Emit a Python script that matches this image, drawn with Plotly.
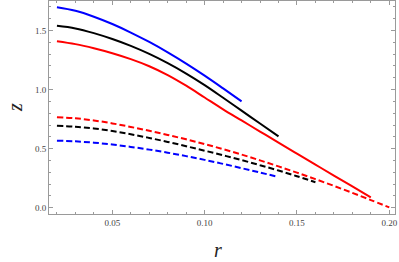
import plotly.graph_objects as go

r_blue_solid = [0.02, 0.03, 0.04, 0.05, 0.06, 0.07, 0.08, 0.09, 0.10, 0.11, 0.12]
z_blue_solid = [1.697, 1.667, 1.617, 1.555, 1.483, 1.403, 1.315, 1.22, 1.118, 1.01, 0.90]

r_black_solid = [0.02, 0.03, 0.04, 0.05, 0.06, 0.07, 0.08, 0.09, 0.10, 0.11, 0.12, 0.13, 0.14]
z_black_solid = [1.54, 1.518, 1.478, 1.428, 1.37, 1.302, 1.224, 1.136, 1.038, 0.931, 0.822, 0.713, 0.604]

r_red_solid = [0.02, 0.03, 0.04, 0.05, 0.06, 0.07, 0.08, 0.09, 0.10, 0.11, 0.12, 0.13, 0.14,
               0.15, 0.16, 0.17, 0.18, 0.19]
z_red_solid = [1.41, 1.385, 1.35, 1.308, 1.258, 1.198, 1.123, 1.033, 0.933, 0.833, 0.739, 0.645, 0.551,
               0.458, 0.365, 0.272, 0.18, 0.088]

r_red_dash = [0.02, 0.03, 0.04, 0.05, 0.06, 0.07, 0.08, 0.09, 0.10, 0.11, 0.12, 0.13, 0.14,
              0.15, 0.16, 0.17, 0.18, 0.19, 0.20]
z_red_dash = [0.767, 0.757, 0.739, 0.714, 0.684, 0.651, 0.616, 0.579, 0.539, 0.496, 0.45, 0.401, 0.35,
              0.297, 0.242, 0.185, 0.126, 0.065, 0.003]

r_black_dash = [0.02, 0.03, 0.04, 0.05, 0.06, 0.07, 0.08, 0.09, 0.10, 0.11, 0.12, 0.13, 0.14, 0.15, 0.16]
z_black_dash = [0.694, 0.686, 0.671, 0.649, 0.622, 0.591, 0.557, 0.521, 0.483, 0.444, 0.403, 0.36, 0.315,
                0.267, 0.216]

r_blue_dash = [0.02, 0.03, 0.04, 0.05, 0.06, 0.07, 0.08, 0.09, 0.10, 0.11, 0.12, 0.13, 0.14]
z_blue_dash = [0.568, 0.562, 0.551, 0.535, 0.515, 0.492, 0.466, 0.437, 0.405, 0.371, 0.335, 0.298, 0.261]

x_ticks = [0.05, 0.10, 0.15, 0.20]
x_tick_labels = ["0.05", "0.10", "0.15", "0.20"]
y_ticks = [0.0, 0.5, 1.0, 1.5]
y_tick_labels = ["0.0", "0.5", "1.0", "1.5"]

series = [
    (r_blue_solid, z_blue_solid, "#0000FF", "solid"),
    (r_black_solid, z_black_solid, "#000000", "solid"),
    (r_red_solid, z_red_solid, "#FF0000", "solid"),
    (r_red_dash, z_red_dash, "#FF0000", "6px,3px"),
    (r_black_dash, z_black_dash, "#000000", "6px,3px"),
    (r_blue_dash, z_blue_dash, "#0000FF", "6px,3px"),
]

fig = go.Figure()
for xs, ys, col, dash in series:
    fig.add_trace(go.Scatter(x=xs, y=ys, mode="lines", line_shape="spline",
                             line=dict(color=col, width=2, dash=dash), showlegend=False))

axis_common = dict(showgrid=False, zeroline=False, showline=True, linecolor="#9a9a9a", linewidth=1,
                   mirror="allticks", ticks="inside", ticklen=4, tickcolor="#9a9a9a",
                   automargin=False,
                   tickfont=dict(family="Liberation Serif", size=9, color="#444444"))

fig.update_xaxes(range=[0.0157, 0.2031], tickvals=x_ticks, ticktext=x_tick_labels,
                 minor=dict(dtick=0.01, ticks="inside", ticklen=2, tickcolor="#9a9a9a", tick0=0),
                 **axis_common)
fig.update_yaxes(range=[-0.053, 1.75], tickvals=y_ticks, ticktext=y_tick_labels,
                 minor=dict(dtick=0.1, ticks="inside", ticklen=2, tickcolor="#9a9a9a", tick0=0),
                 **axis_common)

fig.add_annotation(text="<i>r</i>", xref="paper", yref="paper", x=0.488, y=-0.169,
                   showarrow=False, font=dict(family="Liberation Serif", size=20, color="#222222"),
                   xanchor="center", yanchor="middle")
fig.add_annotation(text="<i>z</i>", xref="paper", yref="paper", x=-0.1, y=0.5,
                   showarrow=False, textangle=-90,
                   font=dict(family="Liberation Serif", size=20, color="#222222"),
                   xanchor="center", yanchor="middle")

fig.update_layout(width=399, height=262, margin=dict(l=49, r=4, t=1, b=48),
                  plot_bgcolor="white", paper_bgcolor="white")

fig.write_html("out.html", config={"displayModeBar": False},
               post_script="document.body.style.margin='0';document.body.style.overflow='hidden';")
